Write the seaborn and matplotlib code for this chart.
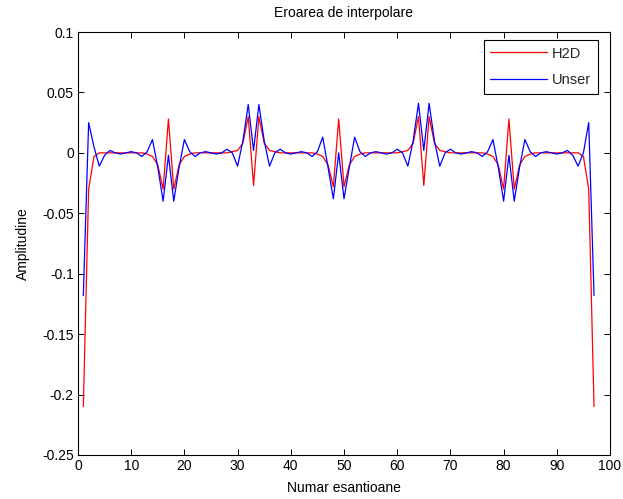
import numpy as np
import pandas as pd
import matplotlib
matplotlib.use("Agg")
import matplotlib.pyplot as plt
import seaborn as sns

# Sample index 1..97
samples = list(range(1, 98))

# Interpolation error, H2D method
h2d = [
    -0.210, -0.030, -0.003, 0.000, 0.000, 0.000, 0.000, 0.000, 0.000, 0.000,
    0.000, 0.000, -0.001, -0.003, -0.010, -0.030, 0.028, -0.030, -0.010, -0.003,
    -0.001, 0.000, 0.000, 0.000, 0.000, 0.000, 0.000, 0.000, 0.001, 0.002,
    0.008, 0.030, -0.027, 0.030, 0.008, 0.002, 0.001, 0.000, 0.000, 0.000,
    0.000, 0.000, 0.000, 0.000, -0.001, -0.003, -0.010, -0.028, 0.028, -0.028,
    -0.010, -0.003, -0.001, 0.000, 0.000, 0.000, 0.000, 0.000, 0.000, 0.000,
    0.001, 0.002, 0.008, 0.030, -0.027, 0.030, 0.008, 0.002, 0.001, 0.000,
    0.000, 0.000, 0.000, 0.000, 0.000, 0.000, -0.001, -0.003, -0.010, -0.030,
    0.028, -0.030, -0.010, -0.003, -0.001, 0.000, 0.000, 0.000, 0.000, 0.000,
    0.000, 0.000, 0.000, 0.000, -0.003, -0.030, -0.210,
]

# Interpolation error, Unser method
unser = [
    -0.118, 0.025, 0.005, -0.011, -0.002, 0.002, 0.000, -0.001, 0.000, 0.001,
    0.000, -0.003, 0.001, 0.011, -0.012, -0.040, -0.002, -0.040, -0.012, 0.011,
    0.001, -0.003, 0.000, 0.001, 0.000, -0.001, 0.000, 0.003, 0.000, -0.011,
    0.010, 0.040, 0.002, 0.040, 0.010, -0.011, 0.000, 0.003, 0.000, -0.001,
    0.000, 0.001, 0.000, -0.003, 0.001, 0.013, -0.012, -0.038, 0.000, -0.038,
    -0.012, 0.013, 0.001, -0.003, 0.000, 0.001, 0.000, -0.001, 0.000, 0.003,
    0.000, -0.011, 0.010, 0.041, 0.002, 0.041, 0.010, -0.011, 0.000, 0.003,
    0.000, -0.001, 0.000, 0.001, 0.000, -0.003, 0.001, 0.011, -0.012, -0.040,
    -0.002, -0.040, -0.012, 0.011, 0.001, -0.003, 0.000, 0.001, 0.000, -0.001,
    0.000, 0.002, -0.002, -0.011, 0.000, 0.025, -0.118,
]

series_names = ["H2D", "Unser"]
series_colors = {"H2D": "#ff0000", "Unser": "#0000ff"}

x_ticks = list(range(0, 101, 10))
y_ticks = [-0.25, -0.2, -0.15, -0.1, -0.05, 0, 0.05, 0.1]
y_tick_labels = ["-0.25", "-0.2", "-0.15", "-0.1", "-0.05", "0", "0.05", "0.1"]

df = pd.DataFrame({
    "Numar esantioane": samples * 2,
    "Amplitudine": h2d + unser,
    "Metoda": [series_names[0]] * len(samples) + [series_names[1]] * len(samples),
})

sns.set_theme(style="white")
plt.rcParams["font.family"] = ["Liberation Sans", "DejaVu Sans"]

fig = plt.figure(figsize=(6.23, 4.99), dpi=100, facecolor="white")
ax = fig.add_axes([78 / 623, 1 - 455 / 499, (610 - 78) / 623, (455 - 32) / 499])

sns.lineplot(
    data=df, x="Numar esantioane", y="Amplitudine", hue="Metoda",
    hue_order=series_names, palette=series_colors, estimator=None,
    sort=False, linewidth=0.9, ax=ax,
)

ax.set_xlim(0, 100)
ax.set_ylim(-0.25, 0.1)
ax.set_xticks(x_ticks)
ax.set_xticklabels([str(t) for t in x_ticks])
ax.set_yticks(y_ticks)
ax.set_yticklabels(y_tick_labels)

ax.tick_params(direction="in", length=4, width=0.7, colors="black",
               labelsize=10, top=True, right=True, bottom=True, left=True, pad=3)
for side in ax.spines.values():
    side.set_visible(True)
    side.set_color("black")
    side.set_linewidth(0.8)

ax.set_title("Eroarea de interpolare", fontsize=10, color="black", pad=11)
ax.set_xlabel("Numar esantioane", fontsize=10, color="black", labelpad=6)
ax.set_ylabel("Amplitudine", fontsize=10, color="black", labelpad=9)

leg = ax.legend(loc="upper right", bbox_to_anchor=(0.977, 0.981),
                frameon=True, fancybox=False, edgecolor="black", framealpha=1,
                fontsize=10.5, handlelength=3.9, borderaxespad=0.0,
                labelspacing=0.85, handletextpad=0.35, borderpad=0.45,
                title=None)
leg.get_frame().set_linewidth(0.8)

fig.savefig("out.png", dpi=100, facecolor="white")
